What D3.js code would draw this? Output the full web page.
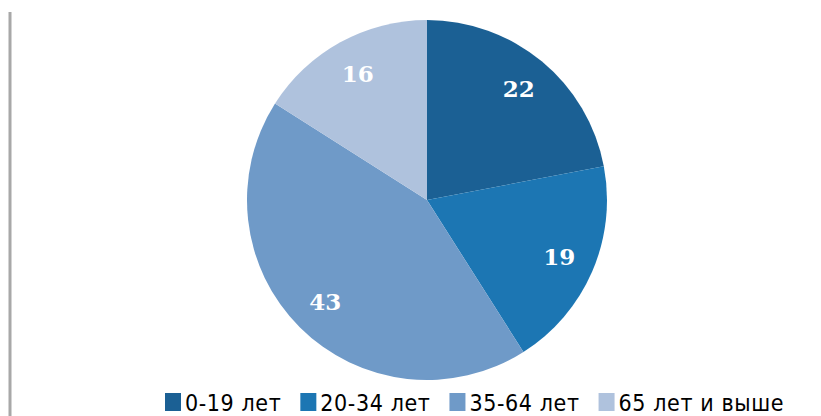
<!DOCTYPE html>
<html lang="ru">
<head>
<meta charset="UTF-8">
<title>Возрастная структура</title>
<script src="https://d3js.org/d3.v7.min.js"></script>
<style>
    body { margin: 0; background: #fff; }
    .label { font-family: "DejaVu Serif", serif; font-weight: bold; font-size: 23px; fill: #fff; }
    .legend text { font-family: "DejaVu Sans Condensed", "DejaVu Sans", sans-serif; font-stretch: condensed; font-size: 23px; letter-spacing: 0.6px; fill: #000; }
</style>
</head>
<body>
<div id="chart"></div>
<script>
    // Data
    const categories = ["0-19 лет", "20-34 лет", "35-64 лет", "65 лет и выше"];
    const values = [22, 19, 43, 16];
    const colors = ["#1b6094", "#1c76b3", "#6f9ac8", "#afc2dd"];

    const width = 821, height = 416;
    const cx = 427, cy = 200, radius = 180;

    const svg = d3.select("#chart")
        .append("svg")
        .attr("width", width)
        .attr("height", height);

    // left border line
    svg.append("line")
        .attr("x1", 10).attr("x2", 10)
        .attr("y1", 12).attr("y2", height)
        .attr("stroke", "#a8a8a8")
        .attr("stroke-width", 3);

    const data = categories.map((c, i) => ({ name: c, value: values[i], color: colors[i] }));

    const pie = d3.pie().value(d => d.value).sort(null);
    const arc = d3.arc().innerRadius(0).outerRadius(radius);
    const labelArc = d3.arc().innerRadius(radius * 0.8).outerRadius(radius * 0.8);

    const g = svg.append("g").attr("transform", `translate(${cx},${cy})`);
    const arcs = pie(data);

    g.selectAll("path")
        .data(arcs)
        .enter()
        .append("path")
        .attr("d", arc)
        .attr("fill", d => d.data.color);

    g.selectAll(".label")
        .data(arcs)
        .enter()
        .append("text")
        .attr("class", "label")
        .attr("transform", d => `translate(${labelArc.centroid(d)})`)
        .attr("text-anchor", "middle")
        .attr("dy", "0.35em")
        .text(d => d.data.value);

    // legend
    const legend = svg.append("g").attr("class", "legend");
    let x = 165;
    data.forEach(d => {
        const item = legend.append("g").attr("transform", `translate(${x},0)`);
        item.append("rect")
            .attr("x", 0).attr("y", 393)
            .attr("width", 16).attr("height", 18)
            .attr("fill", d.color);
        const t = item.append("text")
            .attr("x", 20).attr("y", 411)
            .text(d.name);
        x += 20 + t.node().getComputedTextLength() + 19;
    });
</script>
</body>
</html>
